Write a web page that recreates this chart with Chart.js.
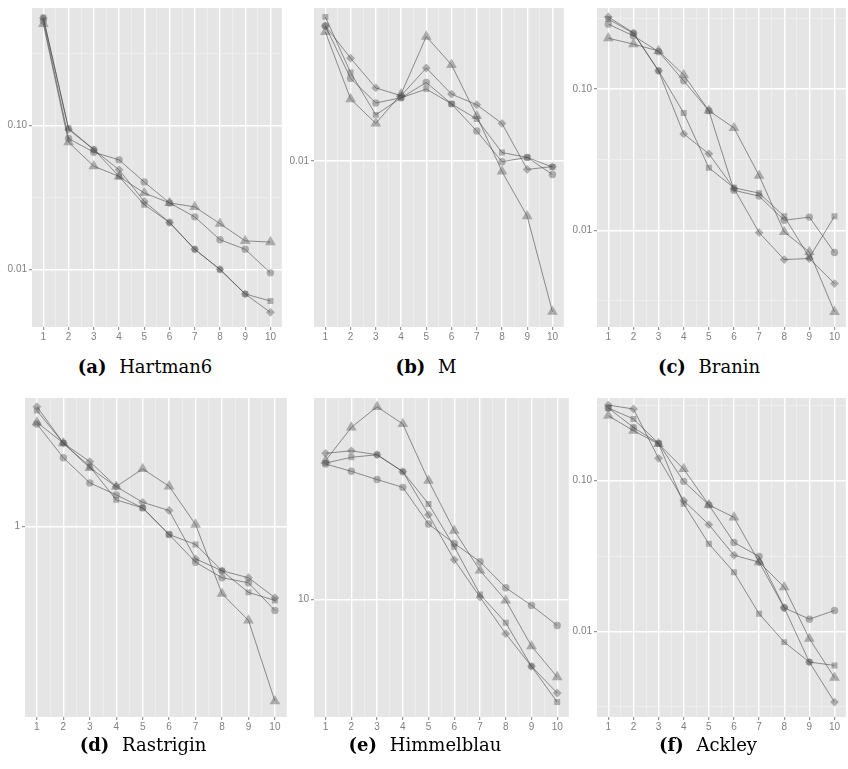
<!DOCTYPE html>
<html>
<head>
<meta charset="utf-8">
<script src="https://cdn.jsdelivr.net/npm/chart.js@4.4.0/dist/chart.umd.min.js"></script>
<style>
  html, body { margin:0; padding:0; background:#fff; overflow:hidden; }
  #fig { position:relative; width:848px; height:769px; overflow:hidden; }
  #fig canvas { position:absolute; }
  .cap { position:absolute; width:300px; text-align:center; font-family:'DejaVu Serif', serif;
         font-size:18px; line-height:20px; color:#000; white-space:nowrap; }
  .cap b { margin-right:7px; }
</style>
</head>
<body>
<div id="fig"></div>
<script>
// iterations on the x axis
const steps = [1, 2, 3, 4, 5, 6, 7, 8, 9, 10];

// (a) Hartman6  -- circle, triangle, square, diamond
const hartCircle   = [0.534, 0.0813, 0.0653, 0.0578, 0.0405, 0.0290, 0.0232, 0.0161, 0.0138, 0.00947];
const hartTriangle = [0.509, 0.0766, 0.0522, 0.0443, 0.0340, 0.0290, 0.0272, 0.0208, 0.0158, 0.0155];
const hartSquare   = [0.563, 0.0958, 0.0682, 0.0443, 0.0282, 0.0212, 0.0138, 0.0100, 0.00675, 0.00603];
const hartDiamond  = [0.560, 0.0940, 0.0680, 0.0493, 0.0297, 0.0212, 0.0138, 0.0100, 0.00675, 0.00503];

// (b) M
const mCircle   = [0.0475, 0.0259, 0.0195, 0.0207, 0.0247, 0.0193, 0.0141, 0.0099, 0.0104, 0.00854];
const mTriangle = [0.0443, 0.0204, 0.0154, 0.0216, 0.0420, 0.0303, 0.0168, 0.00884, 0.00527, 0.00175];
const mSquare   = [0.0527, 0.0277, 0.0170, 0.0207, 0.0229, 0.0193, 0.0162, 0.0110, 0.0104, 0.0093];
const mDiamond  = [0.0475, 0.0327, 0.0232, 0.0212, 0.0292, 0.0216, 0.0191, 0.0154, 0.00905, 0.00936];

// (c) Branin
const brCircle   = [0.288, 0.238, 0.184, 0.1144, 0.0703, 0.0192, 0.01746, 0.01178, 0.0124, 0.00696];
const brTriangle = [0.229, 0.208, 0.186, 0.126, 0.0703, 0.0531, 0.0244, 0.00973, 0.00703, 0.00265];
const brSquare   = [0.313, 0.248, 0.1346, 0.0677, 0.0277, 0.0200, 0.01834, 0.01256, 0.00641, 0.01256];
const brDiamond  = [0.324, 0.250, 0.1346, 0.0481, 0.0348, 0.0198, 0.00964, 0.00621, 0.00631, 0.0042];

// (d) Rastrigin
const raCircle   = [2.92, 2.05, 1.575, 1.389, 1.212, 0.917, 0.686, 0.583, 0.553, 0.414];
const raTriangle = [2.97, 2.39, 1.843, 1.515, 1.823, 1.52, 1.018, 0.493, 0.373, 0.160];
const raSquare   = [3.36, 2.39, 1.868, 1.318, 1.212, 0.917, 0.826, 0.627, 0.500, 0.4595];
const raDiamond  = [3.50, 2.39, 1.968, 1.515, 1.285, 1.179, 0.711, 0.627, 0.583, 0.473];

// (e) Himmelblau
const hiCircle   = [34.99, 32.7, 30.3, 28.2, 20.1, 16.8, 14.2, 11.17, 9.49, 7.89];
const hiTriangle = [36.1, 49.0, 59.3, 50.6, 30.0, 18.9, 13.1, 9.94, 6.52, 4.90];
const hiSquare   = [35.3, 37.2, 38.1, 32.6, 24.2, 16.3, 10.5, 8.09, 5.41, 3.89];
const hiDiamond  = [38.6, 39.5, 38.1, 32.6, 21.9, 14.45, 10.24, 7.31, 5.41, 4.23];

// (f) Ackley
const acCircle   = [0.303, 0.2254, 0.1766, 0.0989, 0.0690, 0.0389, 0.0314, 0.01435, 0.01206, 0.01377];
const acTriangle = [0.2695, 0.2143, 0.175, 0.1195, 0.069, 0.0571, 0.0288, 0.01965, 0.00895, 0.00494];
const acSquare   = [0.303, 0.2563, 0.1766, 0.0701, 0.0381, 0.0247, 0.0131, 0.00849, 0.00626, 0.00595];
const acDiamond  = [0.317, 0.2984, 0.1405, 0.0737, 0.0511, 0.0320, 0.0288, 0.01435, 0.00626, 0.0034];

// y axis tick values / labels
const ticksA = [0.1, 0.01],  labelsA = ['0.10', '0.01'], minorA = [0.3162, 0.03162];
const ticksB = [0.01],       labelsB = ['0.01'],         minorB = [];
const ticksC = [0.1, 0.01],  labelsC = ['0.10', '0.01'], minorC = [0.3162, 0.03162, 0.003162];
const ticksD = [1],          labelsD = ['1'],            minorD = [];
const ticksE = [10],         labelsE = ['10'],           minorE = [];
const ticksF = [0.1, 0.01],  labelsF = ['0.10', '0.01'], minorF = [0.3162, 0.03162, 0.003162];

const panels = [
  {tag:'(a)', name:'Hartman6',   series:[hartCircle, hartTriangle, hartSquare, hartDiamond], ticks:ticksA, labels:labelsA, minor:minorA, ymin:0.00398, ymax:0.657,
   left:0,   top:0,   width:288, yw:32, cap:145},
  {tag:'(b)', name:'M',          series:[mCircle, mTriangle, mSquare, mDiamond], ticks:ticksB, labels:labelsB, minor:minorB, ymin:0.001467, ymax:0.0584,
   left:290, top:0,   width:280, yw:24, cap:426},
  {tag:'(c)', name:'Branin',     series:[brCircle, brTriangle, brSquare, brDiamond], ticks:ticksC, labels:labelsC, minor:minorC, ymin:0.002068, ymax:0.3747,
   left:570, top:0,   width:282, yw:27, cap:709},
  {tag:'(d)', name:'Rastrigin',  series:[raCircle, raTriangle, raSquare, raDiamond], ticks:ticksD, labels:labelsD, minor:minorD, ymin:0.1355, ymax:3.833,
   left:0,   top:390, width:293, yw:25, cap:143},
  {tag:'(e)', name:'Himmelblau', series:[hiCircle, hiTriangle, hiSquare, hiDiamond], ticks:ticksE, labels:labelsE, minor:minorE, ymin:3.39, ymax:64.3,
   left:290, top:390, width:285, yw:24, cap:425},
  {tag:'(f)', name:'Ackley',     series:[acCircle, acTriangle, acSquare, acDiamond], ticks:ticksF, labels:labelsF, minor:minorF, ymin:0.002707, ymax:0.353,
   left:570, top:390, width:282, yw:27, cap:708}
];

// ggplot shapes 16, 17, 15, 18
const shapes = [
  {style:'circle',   radius:3.7},
  {style:'triangle', radius:6.2},
  {style:'rect',     radius:4.2},
  {style:'rectRot',  radius:4.4}
];

const tickFont = {family:'Liberation Sans', size:10};
const tickGrey = '#808080';

const panelBg = {
  id: 'panelBg',
  beforeDraw(chart) {
    const a = chart.chartArea, c = chart.ctx;
    c.save();
    c.fillStyle = '#e5e5e5';
    c.fillRect(a.left, a.top, a.right - a.left, a.bottom - a.top);
    c.restore();
  }
};

const fig = document.getElementById('fig');

panels.forEach(function(p, k) {
  const cv = document.createElement('canvas');
  cv.width = p.width; cv.height = 345;
  cv.style.left = p.left + 'px'; cv.style.top = p.top + 'px';
  cv.style.width = p.width + 'px'; cv.style.height = '345px';
  fig.appendChild(cv);

  const cap = document.createElement('div');
  cap.className = 'cap';
  cap.style.left = (p.cap - 150) + 'px';
  cap.style.top = (p.top === 0 ? 357 : 735) + 'px';
  cap.innerHTML = '<b>' + p.tag + '</b> ' + p.name;
  fig.appendChild(cap);

  const sets = p.series.map(function(vals, i) {
    return {
      data: vals.map(function(v, j) { return {x: steps[j], y: v}; }),
      pointStyle: shapes[i].style,
      pointRadius: shapes[i].radius,
      pointBackgroundColor: 'rgba(85,85,85,0.43)',
      pointBorderWidth: 0,
      borderColor: 'rgba(60,60,60,0.55)',
      borderWidth: 1,
      tension: 0,
      fill: false
    };
  });

  const xTicks = [];
  steps.forEach(function(s, j) {
    xTicks.push({value: s});
    if (j < steps.length - 1) xTicks.push({value: s + 0.5});
  });
  const isMajX = function(ctx) { return ctx.tick && Number.isInteger(ctx.tick.value); };
  const isMajY = function(ctx) { return ctx.tick && p.ticks.indexOf(ctx.tick.value) >= 0; };

  new Chart(cv, {
    type: 'line',
    data: {datasets: sets},
    plugins: [panelBg],
    options: {
      responsive: false,
      animation: false,
      devicePixelRatio: 1,
      layout: {padding: {top: 7, left: 0, right: 0, bottom: 0}},
      plugins: {legend: {display: false}, tooltip: {enabled: false}},
      scales: {
        x: {
          type: 'linear', min: 0.55, max: 10.45,
          afterBuildTicks: function(s) { s.ticks = xTicks.map(function(t) { return {value: t.value}; }); },
          afterFit: function(s) { s.height = 18; },
          ticks: {
            autoSkip: false, maxRotation: 0, font: tickFont, color: tickGrey, padding: 1,
            callback: function(v) { return Number.isInteger(v) ? String(v) : ''; }
          },
          grid: {
            color: function(ctx) { return isMajX(ctx) ? '#ffffff' : '#f2f2f2'; },
            lineWidth: function(ctx) { return isMajX(ctx) ? 1.4 : 0.7; },
            tickColor: function(ctx) { return isMajX(ctx) ? '#7f7f7f' : 'rgba(0,0,0,0)'; },
            tickLength: 3, tickWidth: 1
          },
          border: {display: false}
        },
        y: {
          type: 'logarithmic', min: p.ymin, max: p.ymax,
          afterBuildTicks: function(s) {
            s.ticks = p.ticks.concat(p.minor).map(function(v) { return {value: v}; });
          },
          afterFit: function(s) { s.width = p.yw; },
          ticks: {
            autoSkip: false, font: tickFont, color: tickGrey, padding: 2,
            callback: function(v) {
              const i = p.ticks.indexOf(v);
              return i >= 0 ? p.labels[i] : '';
            }
          },
          grid: {
            color: function(ctx) { return isMajY(ctx) ? '#ffffff' : '#f2f2f2'; },
            lineWidth: function(ctx) { return isMajY(ctx) ? 1.4 : 0.7; },
            tickColor: function(ctx) { return isMajY(ctx) ? '#7f7f7f' : 'rgba(0,0,0,0)'; },
            tickLength: 3, tickWidth: 1
          },
          border: {display: false}
        }
      }
    }
  });
});
</script>
</body>
</html>
